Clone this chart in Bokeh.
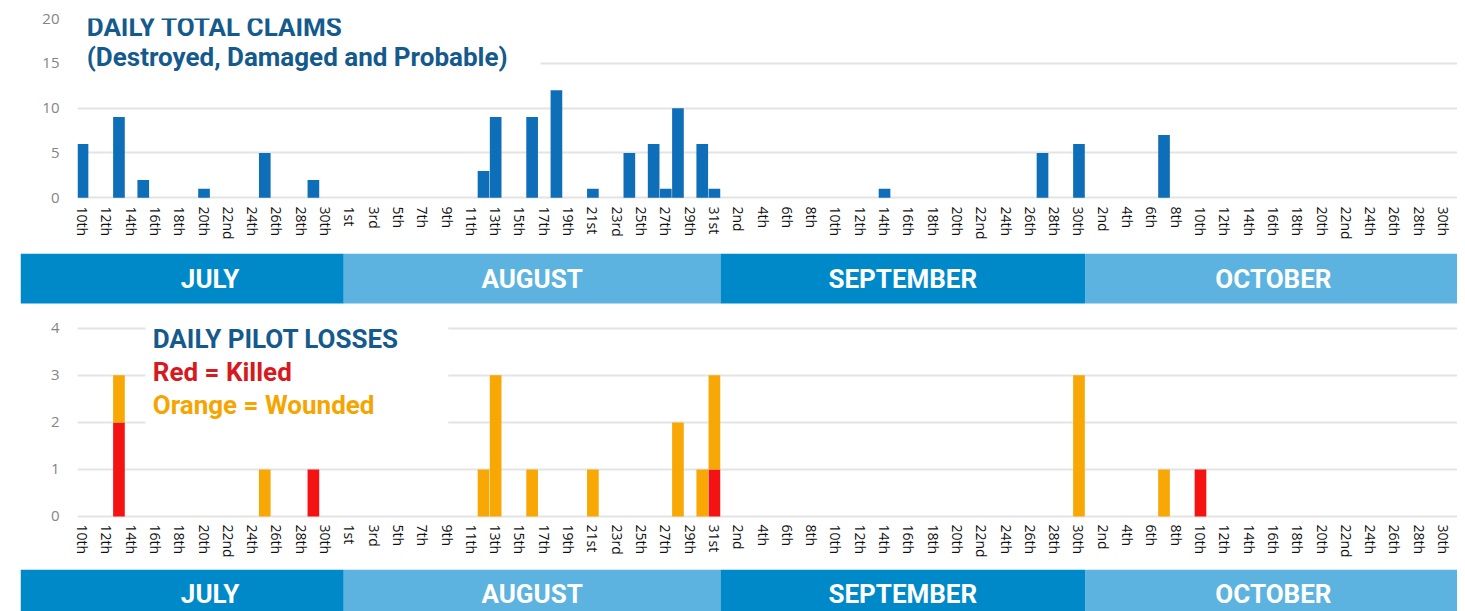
from bokeh.plotting import figure
from bokeh.layouts import column
from bokeh.models import Range1d, FixedTicker, BoxAnnotation, Label, ColumnDataSource
from bokeh.embed import file_html
from bokeh.resources import INLINE
from bokeh.core.properties import value

# ---------------- data ----------------
month_names = ["JULY", "AUGUST", "SEPTEMBER", "OCTOBER"]
month_abbr = ["Jul", "Aug", "Sep", "Oct"]
month_first = [10, 1, 1, 1]
month_last = [31, 31, 30, 31]

tick_labels = [
    "10th", "12th", "14th", "16th", "18th", "20th", "22nd", "24th", "26th", "28th", "30th",
    "1st", "3rd", "5th", "7th", "9th", "11th", "13th", "15th", "17th", "19th", "21st",
    "23rd", "25th", "27th", "29th", "31st",
    "2nd", "4th", "6th", "8th", "10th", "12th", "14th", "16th", "18th", "20th", "22nd",
    "24th", "26th", "28th", "30th",
    "2nd", "4th", "6th", "8th", "10th", "12th", "14th", "16th", "18th", "20th", "22nd",
    "24th", "26th", "28th", "30th",
]

claim_days = ["Jul 10", "Jul 13", "Jul 15", "Jul 20", "Jul 25", "Jul 29",
              "Aug 12", "Aug 13", "Aug 16", "Aug 18", "Aug 21", "Aug 24", "Aug 26",
              "Aug 27", "Aug 28", "Aug 30", "Aug 31", "Sep 14", "Sep 27", "Sep 30", "Oct 7"]
claims = [6, 9, 2, 1, 5, 2, 3, 9, 9, 12, 1, 5, 6, 1, 10, 6, 1, 1, 5, 6, 7]

loss_days = ["Jul 13", "Jul 25", "Jul 29", "Aug 12", "Aug 13", "Aug 16", "Aug 21",
             "Aug 28", "Aug 30", "Aug 31", "Sep 30", "Oct 7", "Oct 10"]
killed = [2, 0, 1, 0, 0, 0, 0, 0, 0, 1, 0, 0, 1]
wounded = [1, 1, 0, 1, 3, 1, 1, 2, 1, 2, 3, 1, 0]

# ---------------- calendar index ----------------
day_keys = []
month_span = []
for ab, f, l in zip(month_abbr, month_first, month_last):
    start = len(day_keys)
    for d in range(f, l + 1):
        day_keys.append(f"{ab} {d}")
    month_span.append((start, len(day_keys) - 1))
day_idx = {k: i for i, k in enumerate(day_keys)}

tick_pos = list(range(0, len(day_keys), 2))[:len(tick_labels)]
overrides = {p: lab for p, lab in zip(tick_pos, tick_labels)}

# ---------------- geometry ----------------
W = 1457
PX_DAY = 12.152
IDX0_X = 82            # figure-x of first day centre
CHART_LEFT = 77
BAND_LEFT = 20
x_start = -(IDX0_X - CHART_LEFT) / PX_DAY
x_end = x_start + (W - CHART_LEFT) / PX_DAY
bx_start = -(IDX0_X - BAND_LEFT) / PX_DAY

BLUE = "#0E6EB8"
RED = "#F51212"
ORANGE = "#F8A804"
TITLE_BLUE = "#145A8C"
BAND_DARK = "#0089C9"
BAND_LIGHT = "#5DB3E0"
GRID = "#E4E4E4"
FONT = "Roboto"
TICK_FONT = "Open Sans"
TITLE_SIZE = "26px"


def style_chart(p, yticks, gridticks):
    p.xaxis.ticker = FixedTicker(ticks=tick_pos)
    p.xaxis.major_label_overrides = overrides
    p.xaxis.major_label_orientation = "vertical"
    p.xaxis.major_label_text_font = TICK_FONT
    p.xaxis.major_label_text_font_size = "14px"
    p.xaxis.major_label_text_color = "#111111"
    p.xaxis.major_label_standoff = 6
    p.yaxis.ticker = FixedTicker(ticks=yticks)
    p.yaxis.major_label_text_font = TICK_FONT
    p.yaxis.major_label_text_font_size = "15px"
    p.yaxis.major_label_text_color = "#858585"
    p.yaxis.major_label_standoff = 18
    for ax in (p.xaxis, p.yaxis):
        ax.axis_line_color = None
        ax.major_tick_line_color = None
        ax.minor_tick_line_color = None
        ax.major_tick_out = 0
        ax.major_tick_in = 0
    p.xgrid.grid_line_color = None
    p.ygrid.ticker = FixedTicker(ticks=gridticks)
    p.ygrid.grid_line_color = GRID
    p.ygrid.grid_line_width = 2
    p.outline_line_color = None
    p.background_fill_color = "white"
    p.border_fill_color = "white"


def band(height, y0):
    b = figure(width=W, height=height, x_range=Range1d(bx_start, x_end),
               y_range=Range1d(y0, 1.0), min_border=0, min_border_left=BAND_LEFT,
               min_border_right=0, min_border_top=0, min_border_bottom=0,
               x_axis_location=None, y_axis_location=None, frame_align=False,
               toolbar_location=None, output_backend="svg")
    lefts, rights, cols, centers = [], [], [], []
    for i, (s, e) in enumerate(month_span):
        lefts.append(bx_start if i == 0 else s - 0.5)
        rights.append(e + 0.5)
        cols.append(BAND_DARK if i % 2 == 0 else BAND_LIGHT)
        centers.append((s + e) / 2)
    b.quad(left=lefts, right=rights, bottom=0, top=1, fill_color=cols, line_color=None)
    b.text(x=centers, y=[0.5] * len(centers), text=month_names, text_color="white",
           text_font=value(FONT), text_font_style="bold", text_font_size=TITLE_SIZE,
           text_align="center", text_baseline="middle")
    b.grid.visible = False
    b.outline_line_color = None
    b.border_fill_color = "white"
    return b


# ---------------- top chart ----------------
pa = figure(width=W, height=253, x_range=Range1d(x_start, x_end), y_range=Range1d(-0.3, 20),
            min_border_left=CHART_LEFT, min_border_right=0, min_border_top=18,
            min_border_bottom=53, frame_align=False,
            toolbar_location=None, output_backend="svg")
src_a = ColumnDataSource(dict(x=[day_idx[d] for d in claim_days], y=claims))
pa.vbar(x="x", top="y", bottom=0, width=0.96, source=src_a, fill_color=BLUE, line_color=None)
style_chart(pa, [0, 5, 10, 15, 20], [0, 5, 10, 15])
pa.add_layout(BoxAnnotation(right=37.7, bottom=13.64, fill_color="white", fill_alpha=1,
                            line_alpha=0))
pa.add_layout(Label(x=0.35, y=19.1, text="DAILY TOTAL CLAIMS", text_font=FONT,
                    text_font_style="bold", text_font_size=TITLE_SIZE, text_color=TITLE_BLUE,
                    text_baseline="alphabetic"))
pa.add_layout(Label(x=0.35, y=15.75, text="(Destroyed, Damaged and Probable)", text_font=FONT,
                    text_font_style="bold", text_font_size=TITLE_SIZE, text_color=TITLE_BLUE,
                    text_baseline="alphabetic"))

pb = band(51, -0.02)

# ---------------- bottom chart ----------------
pc = figure(width=W, height=265, x_range=Range1d(x_start, x_end), y_range=Range1d(-0.045, 4.21),
            min_border_left=CHART_LEFT, min_border_right=0, min_border_top=14,
            min_border_bottom=51, frame_align=False,
            toolbar_location=None, output_backend="svg")
src_c = ColumnDataSource(dict(x=[day_idx[d] for d in loss_days], killed=killed, wounded=wounded))
pc.vbar_stack(["killed", "wounded"], x="x", width=0.96, source=src_c,
              fill_color=[RED, ORANGE], line_color=None)
style_chart(pc, [0, 1, 2, 3, 4], [0, 1, 2, 3, 4])
pc.add_layout(BoxAnnotation(left=5.18, right=30.1, bottom=1.61, fill_color="white",
                            fill_alpha=1, line_alpha=0))
pc.add_layout(Label(x=5.78, y=3.78, text="DAILY PILOT LOSSES", text_font=FONT,
                    text_font_style="bold", text_font_size=TITLE_SIZE, text_color=TITLE_BLUE,
                    text_baseline="alphabetic"))
pc.add_layout(Label(x=5.78, y=3.08, text="Red = Killed", text_font=FONT,
                    text_font_style="bold", text_font_size=TITLE_SIZE, text_color="#D71920",
                    text_baseline="alphabetic"))
pc.add_layout(Label(x=5.78, y=2.38, text="Orange = Wounded", text_font=FONT,
                    text_font_style="bold", text_font_size=TITLE_SIZE, text_color="#F6A500",
                    text_baseline="alphabetic"))

pd_ = band(42, 0.14)

layout = column(pa, pb, pc, pd_, spacing=0)
open("out.html", "w").write(file_html(layout, INLINE))
